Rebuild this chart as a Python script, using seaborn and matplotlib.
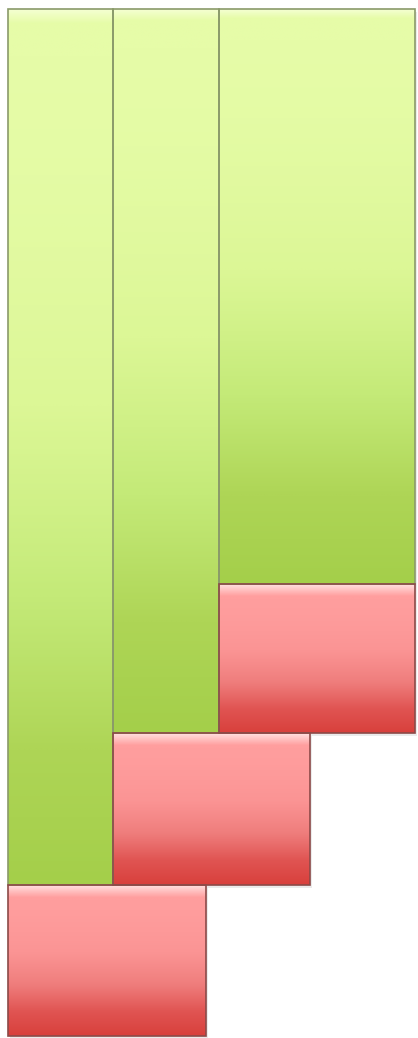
import numpy as np
import matplotlib
matplotlib.use("Agg")
import matplotlib.pyplot as plt
import seaborn as sns

# step layout (x in px from left, y in px from bottom)
col_left = [8, 113, 219]
green_width = [105, 106, 196]
red_width = [198, 197, 196]
red_bottom = [0, 151, 303]
red_height = [151, 152, 149]
green_bottom = [151, 303, 452]
green_top = 1027

sns.set_style("white")

green_cmap = sns.blend_palette(["#f4ffd0", "#e6fca8", "#dcf796", "#c4ea78", "#aed556", "#a4cf4a"],
                               n_colors=256, as_cmap=True)
red_cmap = sns.blend_palette(["#ffe0e0", "#ff9e9e", "#fb9494", "#ef7d7c", "#e05452", "#d8403c"],
                             n_colors=256, as_cmap=True)

fig = plt.figure(figsize=(4.18, 10.38), dpi=100)
ax = fig.add_axes([0, 0, 1, 1])


def make_grad(hl, power):
    t = np.linspace(0, 1, 400)
    g = np.where(t < hl, t / hl * 0.2, 0.2 + 0.8 * ((t - hl) / (1 - hl)) ** power)
    return g.reshape(-1, 1)


def shaded_bars(lefts, widths, bottoms, heights, cmap, edge, grad):
    bars = ax.bar(lefts, heights, width=widths, bottom=bottoms, align="edge",
                  color="none", edgecolor=edge, linewidth=1.2, zorder=3)
    for b in bars:
        x0, y0 = b.get_x(), b.get_y()
        x1, y1 = x0 + b.get_width(), y0 + b.get_height()
        # soft drop shadow
        ax.bar(x0 + 2, y1 - y0, width=x1 - x0, bottom=y0 - 3, align="edge",
               color="#000000", alpha=0.08, linewidth=0, zorder=1)
        im = ax.imshow(grad, extent=[x0, x1, y0, y1], aspect="auto",
                       cmap=cmap, origin="upper", zorder=2, interpolation="bilinear")
        im.set_clip_path(b)
    return bars


green_heights = [green_top - g for g in green_bottom]
shaded_bars(col_left, green_width, green_bottom, green_heights, green_cmap, "#8a9a6a",
            make_grad(0.015, 1.7))
shaded_bars(col_left, red_width, red_bottom, red_height, red_cmap, "#8c4a48",
            make_grad(0.08, 1.5))

ax.set_xlim(0, 418)
ax.set_ylim(-2, 1036)
ax.axis("off")

plt.savefig("out.png", dpi=100)
